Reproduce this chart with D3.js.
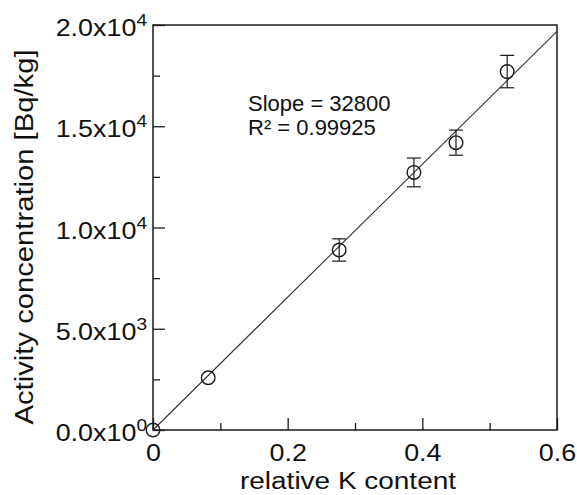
<!DOCTYPE html>
<html><head><meta charset="utf-8">
<script src="https://cdn.jsdelivr.net/npm/d3@7"></script>
<style>body{margin:0;background:#fff}svg{display:block}text{font-family:"Liberation Sans",Arial,sans-serif;fill:#111}</style>
</head><body><svg id="c" width="577" height="495"></svg>
<script>
const kContent = [0, 0.082, 0.2765, 0.3875, 0.450, 0.526];
const activity = [0, 2580, 8890, 12720, 14190, 17700];
const activityErr = [0, 0, 550, 710, 620, 800];
const fitSlope = 32800;
const fitRange = [0, 0.6];
const xTicks = [0, 0.2, 0.4, 0.6];
const xMinor = [0.1, 0.3, 0.5];
const yTicks = [0, 5000, 10000, 15000, 20000];
const yTickMant = ["0.0", "5.0", "1.0", "1.5", "2.0"];
const yTickExp = ["0", "3", "4", "4", "4"];
const yMinor = [2500, 7500, 12500, 17500];
const annot = ["Slope = 32800", "R² = 0.99925"];

const svg = d3.select("#c");
const L = 153, R = 557, T = 25, B = 430;
const x = d3.scaleLinear().domain([0, 0.6]).range([L, R]);
const y = d3.scaleLinear().domain([0, 20000]).range([B, T]);
const ink = "#1a1a1a";

svg.append("rect").attr("x", L).attr("y", T).attr("width", R - L).attr("height", B - T)
  .attr("fill", "none").attr("stroke", ink).attr("stroke-width", 1.5);

const xAx = svg.append("g").attr("transform", `translate(0,${B})`)
  .call(d3.axisBottom(x).tickValues(xTicks).tickSizeInner(-12).tickSizeOuter(0)
    .tickFormat(d => d === 0 ? "0" : d3.format(".1f")(d)));
xAx.select(".domain").remove();
xAx.selectAll(".tick line").attr("stroke", ink).attr("stroke-width", 1.3);
xAx.selectAll(".tick text").attr("font-size", 24).attr("fill", ink).attr("dy", null).attr("y", 31);
const xAxm = svg.append("g").attr("transform", `translate(0,${B})`)
  .call(d3.axisBottom(x).tickValues(xMinor).tickSizeInner(-7).tickSizeOuter(0).tickFormat(""));
xAxm.select(".domain").remove();
xAxm.selectAll(".tick line").attr("stroke", ink).attr("stroke-width", 1.3);

const yAx = svg.append("g").attr("transform", `translate(${L},0)`)
  .call(d3.axisLeft(y).tickValues(yTicks).tickSizeInner(-12).tickSizeOuter(0).tickFormat(""));
yAx.select(".domain").remove();
yAx.selectAll(".tick line").attr("stroke", ink).attr("stroke-width", 1.3);
const yAxm = svg.append("g").attr("transform", `translate(${L},0)`)
  .call(d3.axisLeft(y).tickValues(yMinor).tickSizeInner(-7).tickSizeOuter(0).tickFormat(""));
yAxm.select(".domain").remove();
yAxm.selectAll(".tick line").attr("stroke", ink).attr("stroke-width", 1.3);

yTicks.forEach((v, i) => {
  const t = svg.append("text").attr("x", 147).attr("y", y(v) + 11).attr("text-anchor", "end")
    .attr("font-size", 24).attr("fill", ink);
  t.append("tspan").text(yTickMant[i] + "x10");
  t.append("tspan").attr("font-size", 17).attr("dy", -10).text(yTickExp[i]);
});

svg.selectAll("text").each(function() {
  const n = this.getComputedTextLength();
  d3.select(this).attr("textLength", n * 1.12).attr("lengthAdjust", "spacingAndGlyphs");
});

svg.append("line").attr("x1", x(fitRange[0])).attr("y1", y(fitSlope * fitRange[0]))
  .attr("x2", x(fitRange[1])).attr("y2", y(fitSlope * fitRange[1]))
  .attr("stroke", "#333").attr("stroke-width", 1.1);

const pts = kContent.map((k, i) => ({k, a: activity[i], e: activityErr[i]}));
const g = svg.append("g").attr("stroke", ink).attr("stroke-width", 1.2).attr("fill", "none");
pts.filter(d => d.e > 0).forEach(d => {
  g.append("line").attr("x1", x(d.k)).attr("x2", x(d.k)).attr("y1", y(d.a - d.e)).attr("y2", y(d.a + d.e));
  [d.a - d.e, d.a + d.e].forEach(v => g.append("line").attr("x1", x(d.k) - 7).attr("x2", x(d.k) + 7)
    .attr("y1", y(v)).attr("y2", y(v)));
});
g.selectAll("circle").data(pts).join("circle").attr("cx", d => x(d.k)).attr("cy", d => y(d.a)).attr("r", 6.8)
  .attr("stroke-width", 1.4);

svg.append("text").attr("x", 248).attr("y", 111).attr("font-size", 22).attr("fill", ink).text(annot[0]);
svg.append("text").attr("x", 248).attr("y", 135).attr("font-size", 22).attr("fill", ink).text(annot[1]);

svg.append("text").attr("x", 348).attr("y", 489).attr("text-anchor", "middle").attr("font-size", 23.5)
  .attr("fill", ink).attr("textLength", 216).attr("lengthAdjust", "spacingAndGlyphs").text("relative K content");
svg.append("text").attr("transform", "translate(33,237) rotate(-90)").attr("text-anchor", "middle")
  .attr("font-size", 26).attr("fill", ink).attr("textLength", 375).attr("lengthAdjust", "spacingAndGlyphs")
  .text("Activity concentration [Bq/kg]");
</script></body></html>
